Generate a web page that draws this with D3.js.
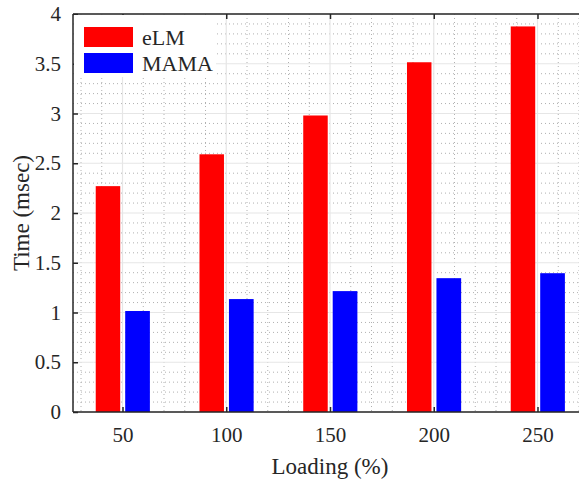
<!DOCTYPE html>
<html><head><meta charset="utf-8">
<script src="https://cdn.jsdelivr.net/npm/d3@7"></script>
<style>body{margin:0;background:#fff}svg{display:block}svg text{font-family:"Liberation Serif","Times New Roman",serif !important;fill:#262626}</style>
</head><body>
<script>
const categories = [50, 100, 150, 200, 250];
const seriesNames = ["eLM", "MAMA"];
const eLM = [2.27, 2.59, 2.98, 3.515, 3.875];
const MAMA = [1.015, 1.135, 1.215, 1.345, 1.395];
const yTicks = [0, 0.5, 1, 1.5, 2, 2.5, 3, 3.5, 4];
const colors = ["#ff0000", "#0000ff"];

const W = 579, H = 480;
const pL = 73, pT = 14, pB = 412, pR = 600;
const FONT = "Liberation Serif";
const svg = d3.select("body").append("svg").attr("width", W).attr("height", H);

// x mapping: 50 -> 122.5, 250 -> 537.5
const k = (537.5 - 122.5) / 200;
const x = d3.scaleLinear().domain([50 - (122.5 - pL) / k, 50 + (pR - 122.5) / k]).range([pL, pR]);
const y = d3.scaleLinear().domain([0, 4]).range([pB, pT]);

const g = svg.append("g");
// minor grid
const xMinor = d3.range(30, 280, 10).filter(v => v % 50 !== 0);
const yMinor = d3.range(0, 40).map(v => v / 10).filter(v => Math.round(v * 10) % 5 !== 0);
g.selectAll(".xm").data(xMinor).join("line")
  .attr("x1", d => x(d)).attr("x2", d => x(d)).attr("y1", pT).attr("y2", pB)
  .attr("stroke", "#b0b0b0").attr("stroke-width", 1).attr("stroke-dasharray", "1,3");
g.selectAll(".ym").data(yMinor).join("line")
  .attr("x1", pL).attr("x2", pR).attr("y1", d => y(d)).attr("y2", d => y(d))
  .attr("stroke", "#b0b0b0").attr("stroke-width", 1).attr("stroke-dasharray", "1,3");
// major grid
g.selectAll(".xg").data(categories).join("line")
  .attr("x1", d => x(d)).attr("x2", d => x(d)).attr("y1", pT).attr("y2", pB)
  .attr("stroke", "#e6e6e6").attr("stroke-width", 1.2);
g.selectAll(".yg").data(yTicks).join("line")
  .attr("x1", pL).attr("x2", pR).attr("y1", d => y(d)).attr("y2", d => y(d))
  .attr("stroke", "#e6e6e6").attr("stroke-width", 1.2);

// bars
const offsets = [[-12.9, -1.1], [1.3, 13.2]];
[eLM, MAMA].forEach((vals, si) => {
  svg.append("g").selectAll("rect").data(vals).join("rect")
    .attr("x", (d, i) => x(categories[i] + offsets[si][0]))
    .attr("width", (d, i) => x(categories[i] + offsets[si][1]) - x(categories[i] + offsets[si][0]))
    .attr("y", d => y(d))
    .attr("height", d => y(0) - y(d))
    .attr("fill", colors[si]);
});

// axes
const yAxis = svg.append("g").attr("transform", `translate(${pL},0)`)
  .call(d3.axisLeft(y).tickValues(yTicks).tickSize(-5).tickPadding(12).tickFormat(d3.format("")));
const xAxis = svg.append("g").attr("transform", `translate(0,${pB})`)
  .call(d3.axisBottom(x).tickValues(categories).tickSize(-5).tickPadding(15));
const xTop = svg.append("g").attr("transform", `translate(0,${pT})`)
  .call(d3.axisTop(x).tickValues(categories).tickSize(-5).tickFormat(""));
[yAxis, xAxis, xTop].forEach(a => {
  a.attr("font-family", FONT);
  a.select(".domain").attr("stroke", "#262626").attr("stroke-width", 1.5);
  a.selectAll(".tick line").attr("stroke", "#262626").attr("stroke-width", 1.5);
  a.selectAll(".tick text").attr("font-size", 21).attr("font-family", FONT).attr("fill", "#262626");
});
xTop.select(".domain").attr("d", `M${pL},0H${pR}`);
yAxis.select(".domain").attr("d", `M0,${pT}V${pB}`);
xAxis.select(".domain").attr("d", `M${pL},0H${pR}`);

// labels
svg.append("text").attr("x", 330).attr("y", 474).attr("text-anchor", "middle")
  .attr("font-family", FONT).attr("font-size", 23).text("Loading (%)");
svg.append("text").attr("transform", `translate(29,${(pT + pB) / 2}) rotate(-90)`)
  .attr("font-family", FONT).attr("text-anchor", "middle").attr("font-size", 23).text("Time (msec)");

// legend
const lg = svg.append("g");
lg.append("rect").attr("x", pL + 1).attr("y", pT + 1).attr("width", 142).attr("height", 62).attr("fill", "#fff");
seriesNames.forEach((n, i) => {
  lg.append("rect").attr("x", 84).attr("y", 27 + i * 26).attr("width", 49).attr("height", 20).attr("fill", colors[i]);
  lg.append("text").attr("x", 142).attr("y", 45 + i * 26).attr("font-family", FONT).attr("font-size", 22).text(n);
});
</script>
</body></html>
